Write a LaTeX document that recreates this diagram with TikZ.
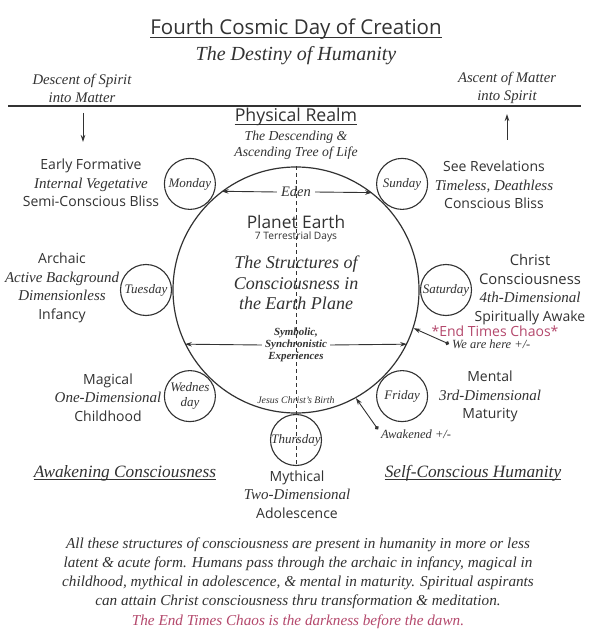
\documentclass[tikz,border=0pt]{standalone}
\usepackage{fontspec}
\setmainfont{Liberation Serif}
\newfontfamily\osans{Open Sans}
\usetikzlibrary{arrows.meta}
\definecolor{ink}{RGB}{50,50,50}
\definecolor{chaos}{RGB}{180,72,108}
\newcommand\serit[1]{{\rmfamily\itshape\fontsize{15}{18.5}\selectfont #1}}
\begin{document}
\begin{tikzpicture}[x=1pt,y=-1pt,
  every node/.style={text=ink, inner sep=0pt},
  uline/.style={draw=ink, line width=0.8pt},
  arr/.style={draw=ink, line width=0.9pt, -{Stealth[length=7pt,width=4.5pt]}},
  dotarr/.style={draw=ink, line width=0.9pt, {Circle[length=4pt]}-{Stealth[length=7pt,width=4.5pt]}},
  daycirc/.style={draw=ink, line width=1.1pt, circle, minimum size=51pt, align=center,
    font=\rmfamily\itshape\fontsize{13}{15}\selectfont},
  sanslbl/.style={align=center, font=\osans\fontsize{14}{18.5}\selectfont},
  serlbl/.style={align=center, font=\rmfamily\itshape\fontsize{13}{18}\selectfont},
]
\useasboundingbox[fill=white] (0,0) rectangle (595,636);

% ---- header
\node[anchor=base, font=\osans\fontsize{20.5}{22}\selectfont] (title) at (296,35) {Fourth Cosmic Day of Creation};
\draw[uline] ([yshift=-2.5pt]title.base west) -- ([yshift=-2.5pt]title.base east);
\node[anchor=base, font=\rmfamily\itshape\fontsize{20}{22}\selectfont] (dest) at (296,61) {The Destiny of Humanity};

\node[serlbl, font=\rmfamily\itshape\fontsize{14.7}{18}\selectfont] (descent) at (82,88) {Descent of Spirit\\into Matter};
\node[serlbl, font=\rmfamily\itshape\fontsize{14.7}{18}\selectfont] (ascent) at (507,88) {Ascent of Matter\\into Spirit};
\coordinate (hl) at (8,106);
\coordinate (hr) at (581,106);
\draw[draw=ink, line width=1.5pt] (hl) -- (hr);
\coordinate (dtop) at (83,113);
\coordinate (dbot) at (83,142);
\draw[arr] (dtop) -- (dbot);
\coordinate (ubot) at (507,140);
\coordinate (utop) at (507,114);
\draw[arr] (ubot) -- (utop);

\node[anchor=base, font=\osans\fontsize{17.7}{19}\selectfont] (phys) at (296,122) {Physical Realm};
\draw[uline] ([yshift=-2.5pt]phys.base west) -- ([yshift=-2.5pt]phys.base east);
\node[serlbl, font=\rmfamily\itshape\fontsize{13.7}{16.5}\selectfont] (tree) at (296,145) {The Descending \&\\Ascending Tree of Life};

% ---- earth and days
\node[draw=ink, line width=1.2pt, circle, minimum size=246pt] (earth) at (296,290) {};
\node[daycirc] (mon) at (189.9,183.9) {Monday};
\node[daycirc] (sun) at (402.1,183.9) {Sunday};
\node[daycirc] (tue) at (146,290) {Tuesday};
\node[daycirc] (sat) at (446,290) {Saturday};
\node[daycirc] (wed) at (189.9,396.1) {Wednes\\day};
\node[daycirc] (fri) at (402.1,396.1) {Friday};
\node[daycirc] (thu) at (296,440) {Thursday};
\draw[draw=ink, line width=1pt, dash pattern=on 4pt off 3pt] (earth.north) -- (thu.south);

\node[font=\rmfamily\itshape\fontsize{14.5}{16}\selectfont] (eden) at (296,192) {Eden};
\draw[arr] ([xshift=-4pt]eden.west) -- (earth.127.2);
\draw[arr] ([xshift=4pt]eden.east) -- (earth.52.8);

\node[font=\osans\fontsize{17.3}{18}\selectfont] (pe) at (296,222) {Planet Earth};
\node[font=\osans\fontsize{10.2}{11}\selectfont] (td) at (296,237) {7 Terrestrial Days};
\node[align=center, font=\rmfamily\itshape\fontsize{18}{20.5}\selectfont] (struct) at (296,283) {The Structures of\\Consciousness in\\the Earth Plane};

\node[align=center, font=\rmfamily\bfseries\itshape\fontsize{10.9}{12}\selectfont] (sym) at (296,345) {Symbolic,\\Synchronistic\\Experiences};
\draw[arr] ([xshift=-3pt]sym.west) -- (earth.206.6);
\draw[arr] ([xshift=3pt]sym.east) -- (earth.-26.6);

\node[font=\rmfamily\itshape\fontsize{9.9}{11}\selectfont] (jesus) at (296,400) {Jesus Christ's Birth};

% ---- side labels
\node[sanslbl] (early) at (91,183) {Early Formative\\\serit{Internal Vegetative}\\Semi-Conscious Bliss};
\node[sanslbl] (rev) at (494,185) {See Revelations\\\serit{Timeless, Deathless}\\Conscious Bliss};
\node[sanslbl] (archaic) at (62,288) {Archaic\\\serit{Active Background}\\\serit{Dimensionless}\\Infancy};
\node[sanslbl] (christ) at (530,289.5) {{\fontsize{14.8}{18.5}\selectfont Christ}\\{\fontsize{14.8}{18.5}\selectfont Consciousness}\\\serit{4th-Dimensional}\\Spiritually Awake};
\node[font=\osans\fontsize{14}{15}\selectfont, text=chaos] (chaosl) at (495,331) {*End Times Chaos*};
\node[anchor=west, font=\rmfamily\itshape\fontsize{12.5}{14}\selectfont] (here) at (452,344) {We are here +/-};
\draw[dotarr] ([xshift=-3pt]here.west) -- (earth.-18);

\node[sanslbl] (magical) at (108,397.5) {Magical\\\serit{One-Dimensional}\\Childhood};
\node[sanslbl] (mental) at (490,396.5) {Mental\\\serit{3rd-Dimensional}\\Maturity};
\node[anchor=west, font=\rmfamily\itshape\fontsize{12.5}{14}\selectfont] (awk) at (381,434) {Awakened +/-};
\draw[dotarr] ([xshift=-3pt]awk.north west) -- (earth.-61.4);

\node[anchor=base, font=\rmfamily\itshape\fontsize{17.3}{19}\selectfont] (awc) at (125,477) {Awakening Consciousness};
\draw[uline] ([yshift=-2.5pt]awc.base west) -- ([yshift=-2.5pt]awc.base east);
\node[anchor=base, font=\rmfamily\itshape\fontsize{17.3}{19}\selectfont] (sch) at (473,477) {Self-Conscious Humanity};
\draw[uline] ([yshift=-2.5pt]sch.base west) -- ([yshift=-2.5pt]sch.base east);

\node[sanslbl] (myth) at (297,494.5) {Mythical\\\serit{Two-Dimensional}\\Adolescence};

% ---- paragraph
\node[align=center, font=\rmfamily\itshape\fontsize{15.2}{19.2}\selectfont] (para) at (298,583)
 {All these structures of consciousness are present in humanity in more or less\\
  latent \& acute form. Humans pass through the archaic in infancy, magical in\\
  childhood, mythical in adolescence, \& mental in maturity. Spiritual aspirants\\
  can attain Christ consciousness thru transformation \& meditation.\\
  \textcolor{chaos}{The End Times Chaos is the darkness before the dawn.}};
\end{tikzpicture}
\end{document}
